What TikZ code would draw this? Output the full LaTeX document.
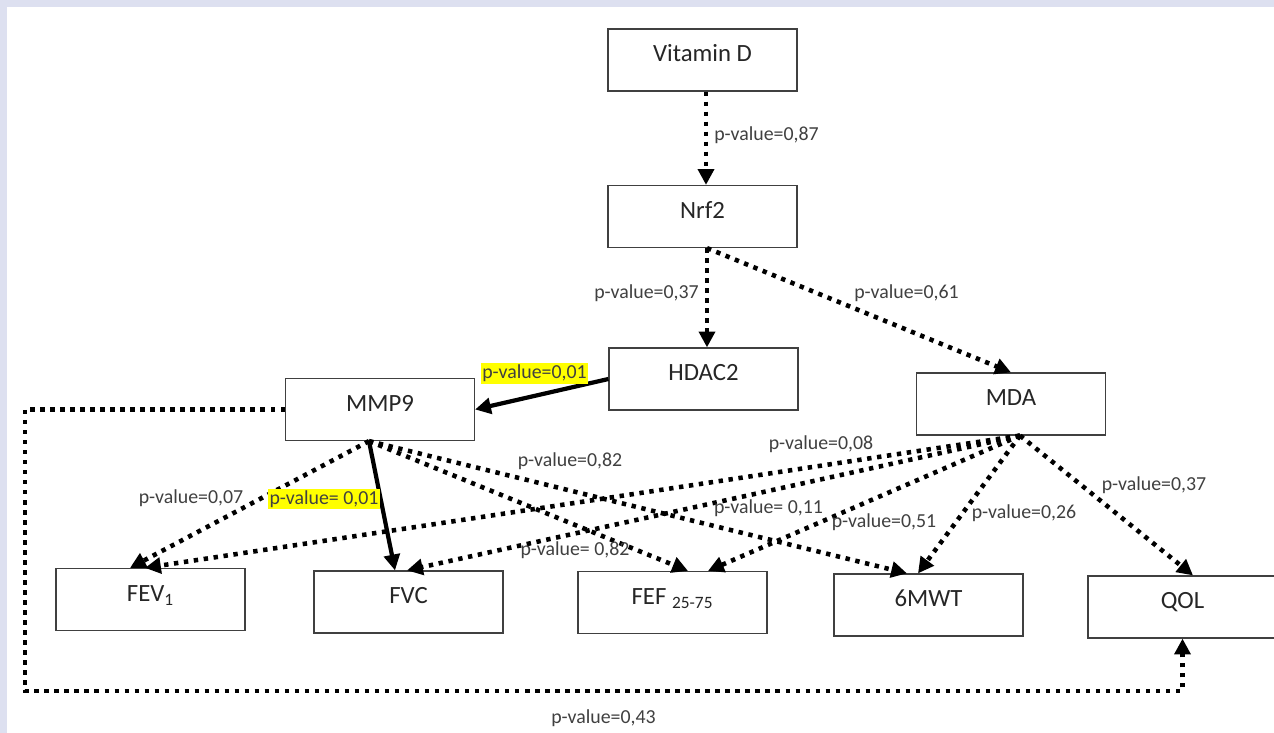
\documentclass[tikz,border=0pt]{standalone}
\usepackage{fontspec}
\setmainfont{Carlito}
\usetikzlibrary{arrows.meta,calc}

\definecolor{frame}{RGB}{221,224,240}
\definecolor{labelgrey}{RGB}{64,64,64}
\definecolor{hl}{RGB}{255,255,0}

\begin{document}
\begin{tikzpicture}[
  x=0.02cm,y=-0.02cm,
  box/.style={draw=black!75, line width=0.7pt, minimum width=3.78cm, minimum height=1.24cm, inner sep=0pt, text height=10pt, text depth=7.8pt, font=\fontsize{14.1}{16}\selectfont, text=black!85},
  pval/.style={inner sep=0pt, font=\fontsize{11.3}{13}\selectfont, text=labelgrey},
  hilite/.style={pval, fill=hl, inner sep=1pt},
  solarr/.style={-{Triangle[length=9pt,width=9pt]}, line width=2.4pt},
  dotarr/.style={solarr, line width=2.6pt, dash pattern=on 2.5pt off 3.2pt}
]
% page and frame
\fill[frame] (0,0) rectangle (1274,733);
\fill[white] (7,7) rectangle (1274,733);
\useasboundingbox (0,0) rectangle (1274,733);

% boxes
\node[box] (vitd)  at (702.5,60)    {Vitamin D};
\node[box] (nrf2)  at (702.5,216.5) {Nrf2};
\node[box] (hdac2) at (703.5,379)   {HDAC2};
\node[box] (mda)   at (1011,404)    {MDA};
\node[box] (mmp9)  at (380,409.5)   {MMP9};
\node[box] (fev)   at (150.5,599.5) {FEV\textsubscript{1}};
\node[box] (fvc)   at (408.5,602)   {FVC};
\node[box] (fef)   at (672.5,602.5) {FEF \textsubscript{25-75}};
\node[box] (mwt)   at (928.5,605)   {6MWT};
\node[box] (qol)   at (1182.5,607)  {QOL};

% start points of the fans
\coordinate (nrfout) at ($(nrf2.south)+(4.5,0)$);
\coordinate (mmpout) at ($(mmp9.south)+(-11,0)$);
\coordinate (mdaout) at ($(mda.south)+(9,0)$);
\coordinate (loopl)  at (25,691);

% upper chain
\draw[dotarr] ($(vitd.south)+(3.5,0)$) -- ($(nrf2.north)+(3.5,0)$);
\draw[dotarr] (nrfout) -- ($(hdac2.north)+(3.5,0)$);
\draw[dotarr] (nrfout) -- (mda.north);
\draw[solarr] (hdac2.west) -- (mmp9.east);

% MMP9 fan
\draw[dotarr] (mmpout) -- ($(fev.north)+(-20.5,0)$);
\draw[solarr] (mmpout) -- ($(fvc.north)+(-13.5,0)$);
\draw[dotarr] (mmpout) -- ($(fef.north)+(15.5,0)$);
\draw[dotarr] (mmpout) -- ($(mwt.north)+(-21.5,0)$);

% MDA fan
\draw[dotarr] (mdaout) -- ($(fev.north)+(-5.5,0)$);
\draw[dotarr] (mdaout) -- ($(fvc.north)+(-1.5,0)$);
\draw[dotarr] (mdaout) -- ($(fef.north)+(35.5,0)$);
\draw[dotarr] (mdaout) -- ($(mwt.north)+(-10.5,0)$);
\draw[dotarr] (mdaout) -- ($(qol.north)+(10.5,0)$);

% loop round the bottom
\draw[dotarr] (mmp9.west) -| (loopl) -| (qol.south);

% p-values
\node[pval] (p87) at (766.5,135) {p-value=0,87};
\node[pval] (p37a) at (646.5,293) {p-value=0,37};
\node[pval] (p61) at (906.5,293) {p-value=0,61};
\node[hilite] (p01a) at (534.5,373.5) {p-value=0,01};
\node[pval] (p07) at (191,498) {p-value=0,07};
\node[hilite] (p01b) at (324,499) {p-value= 0,01};
\node[pval] (p82a) at (570,461) {p-value=0,82};
\node[pval] (p08) at (821,444) {p-value=0,08};
\node[pval] (p11) at (768.5,508) {p-value= 0,11};
\node[pval] (p82b) at (575,550) {p-value= 0,82};
\node[pval] (p51) at (884,522) {p-value=0,51};
\node[pval] (p26) at (1024,513) {p-value=0,26};
\node[pval] (p37b) at (1154,485) {p-value=0,37};
\node[pval] (p43) at (603.5,718) {p-value=0,43};
\end{tikzpicture}
\end{document}
